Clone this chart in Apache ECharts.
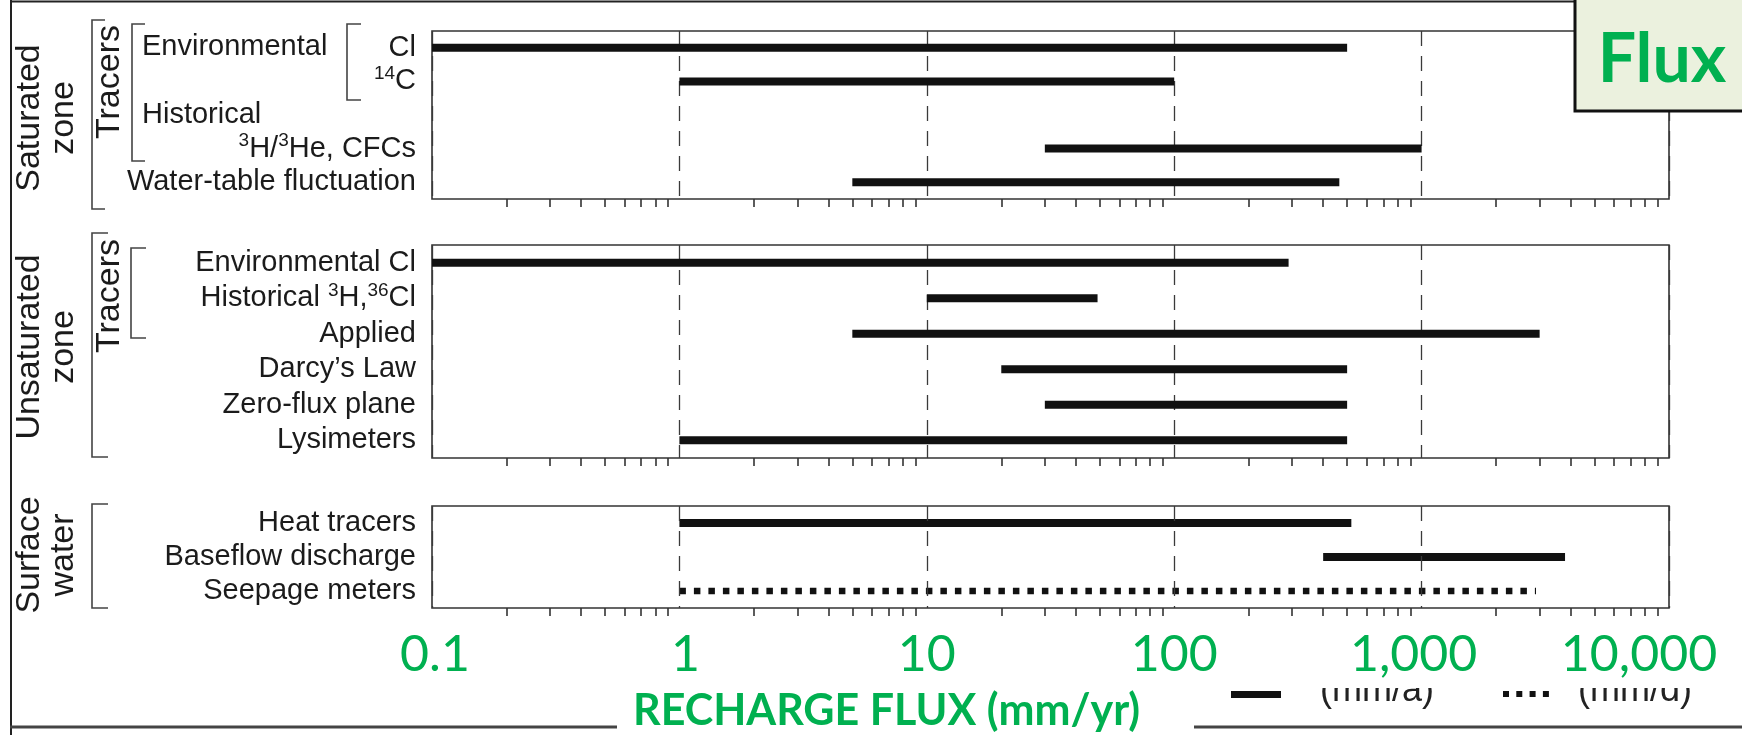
<!DOCTYPE html>
<html><head><meta charset="utf-8">
<script src="https://cdn.jsdelivr.net/npm/echarts@6/dist/echarts.min.js"></script>
<style>html,body{margin:0;padding:0;background:#fff}#c{width:1742px;height:735px}</style>
</head><body><div id="c"></div>
<script>
// ---------- data ----------
const xTickLabels = ['0.1', '1', '10', '100', '1,000', '10,000'];
const minorTickValues = [0.2,0.3,0.4,0.5,0.6,0.7,0.8,0.9, 2,3,4,5,6,7,8,9, 20,30,40,50,60,70,80,90, 200,300,400,500,600,700,800,900, 2000,3000,4000,5000,6000,7000,8000,9000];

const satRows = ['Cl', '14C', '', '3H/3He, CFCs', 'Water-table fluctuation'];
const satLow  = [0.1, 1, null, 30, 5];
const satHigh = [500, 100, null, 1000, 465];

const unsatRows = ['Environmental Cl', 'Historical 3H,36Cl', 'Applied', 'Darcy\u2019s Law', 'Zero-flux plane', 'Lysimeters'];
const unsatLow  = [0.1, 10, 5, 20, 30, 1];
const unsatHigh = [290, 49, 3000, 500, 500, 500];

const surfRows = ['Heat tracers', 'Baseflow discharge', 'Seepage meters'];
const surfLow  = [1, 400, 1];
const surfHigh = [520, 3800, 2900];

const dottedRows = ['Seepage meters'];

// ---------- styles ----------
const GREEN = '#00B050';
const INK = '#1b1b1b';
const LABEL_FONT = 'Liberation Sans';
const panels = [
  { rows: satRows, low: satLow, high: satHigh, top: 31, height: 168 },
  { rows: unsatRows, low: unsatLow, high: unsatHigh, top: 245, height: 213 },
  { rows: surfRows, low: surfLow, high: surfHigh, top: 506, height: 102 }
];

function richLabel(s) {
  return s.replace(/(\d+)(?=[A-Z])/g, '{sup|$1}');
}

const chart = echarts.init(document.getElementById('c'), null, { renderer: 'canvas' });

const grid = panels.map(p => ({
  left: 432, width: 1237, top: p.top, height: p.height,
  show: true, borderColor: '#333', borderWidth: 1.6, backgroundColor: 'transparent',
  containLabel: false, outerBoundsMode: 'none'
}));

const xAxis = [];
panels.forEach((p, i) => {
  // main axis: decade dashed lines + labels
  xAxis.push({
    gridIndex: i, type: 'log', logBase: 10, min: 0.1, max: 10000, splitNumber: 5,
    position: 'bottom',
    z: i === 2 ? 10 : 2,
    axisLine: { show: false },
    axisTick: { show: false },
    splitLine: { show: true, lineStyle: { color: '#3a3a3a', width: 1.3, type: [15, 10] } },
    axisLabel: i < 2 ? { show: false } : {
      show: true, color: GREEN, fontFamily: 'Lato', fontSize: 50, lineHeight: 50, margin: 22,
      formatter: function (v) {
        const k = Math.round(Math.log10(v)) + 1;
        const t = xTickLabels[k];
        if (k === 0) return '{p0|' + t + '}';
        if (k === 1) return '{p1|' + t + '}';
        if (k === 4) return '{p4|' + t + '}';
        if (k === 5) return '{p5|' + t + '}';
        return t;
      },
      rich: {
        p0: { padding: [0, 0, 0, 6] },
        p1: { padding: [0, 0, 0, 12] },
        p4: { padding: [0, 16, 0, 0] },
        p5: { padding: [0, 60, 0, 0] }
      }
    }
  });
  // tick axis: minor ticks below the panel
  xAxis.push({
    gridIndex: i, type: 'log', logBase: 10, min: 0.1, max: 10000, position: 'bottom',
    axisLine: { show: false },
    axisTick: { show: true, customValues: minorTickValues, length: 8, inside: false,
                lineStyle: { color: '#333', width: 1.6 } },
    splitLine: { show: false },
    axisLabel: { show: false }
  });
});

const yAxis = panels.map((p, i) => ({
  gridIndex: i, type: 'category', data: p.rows, inverse: true,
  axisLine: { show: false }, axisTick: { show: false }, splitLine: { show: false },
  axisLabel: {
    show: true, interval: 0, margin: 16, color: INK, fontFamily: LABEL_FONT, fontSize: 29, lineHeight: 34,
    formatter: function (v) { return richLabel(v); },
    rich: { sup: { fontSize: 19, lineHeight: 22, verticalAlign: 'top', fontFamily: LABEL_FONT, color: INK } }
  }
}));

function makeSeries(p, i) {
  const data = [];
  p.rows.forEach((r, k) => { if (p.low[k] != null) data.push([p.low[k], p.high[k], k]); });
  return {
    type: 'custom', xAxisIndex: 2 * i, yAxisIndex: i, data: data, z: 4,
    encode: { x: [0, 1], y: 2 },
    renderItem: function (params, api) {
      const row = api.value(2);
      const a = api.coord([api.value(0), row]);
      const b = api.coord([api.value(1), row]);
      if (dottedRows.indexOf(p.rows[row]) >= 0) {
        return { type: 'line', shape: { x1: a[0], y1: a[1], x2: b[0], y2: b[1] },
                 style: { stroke: '#111', lineWidth: 6.5, lineDash: [6.5, 8], lineCap: 'butt' } };
      }
      return { type: 'rect', shape: { x: a[0], y: a[1] - 4, width: b[0] - a[0], height: 8 },
               style: { fill: '#111' } };
    }
  };
}

const series = panels.map(makeSeries);

function bracket(x, y1, y2, arm) {
  return { type: 'polyline', z: 1, shape: { points: [[x + arm, y1], [x, y1], [x, y2], [x + arm, y2]] },
           style: { stroke: '#444', lineWidth: 1.6, fill: null } };
}
function rotText(text, x, y) {
  return { type: 'text', x: x, y: y, rotation: Math.PI / 2, z: 1,
           style: { text: text, font: '34px "Liberation Sans"', fill: INK, textAlign: 'center',
                    textVerticalAlign: 'middle', lineHeight: 34 } };
}
function plainText(text, x, y, font, fill, z, align) {
  return { type: 'text', x: x, y: y, z: z || 1,
           style: { text: text, font: font, fill: fill, textAlign: align || 'left', textVerticalAlign: 'middle' } };
}
function line(x1, y1, x2, y2, w, color, z) {
  return { type: 'line', z: z || 1, shape: { x1: x1, y1: y1, x2: x2, y2: y2 },
           style: { stroke: color || '#333', lineWidth: w } };
}

const graphic = [
  // frame
  line(10, 1.5, 1575, 1.5, 2, '#222'),
  line(11, 0, 11, 735, 2, '#222'),
  line(10, 727, 617, 727, 3, '#444'),
  line(1194, 727, 1742, 727, 3, '#444'),
  // brackets
  bracket(92, 20, 209, 13),
  bracket(132, 24, 161, 13),
  bracket(347, 24, 100, 14),
  bracket(92, 233, 457, 16),
  bracket(131, 248, 338, 15),
  bracket(92, 504, 608, 16),
  // rotated group labels
  rotText('Saturated\nzone', 47, 118),
  rotText('Tracers', 110, 82),
  rotText('Unsaturated\nzone', 47, 347),
  rotText('Tracers', 110, 296),
  rotText('Surface\nwater', 47, 555),
  // sub labels
  plainText('Environmental', 142, 47, '29px "Liberation Sans"', INK),
  plainText('Historical', 142, 115, '29px "Liberation Sans"', INK),
  // legend
  { type: 'rect', z: 1, shape: { x: 1231, y: 691, width: 50, height: 7 }, style: { fill: '#111' } },
  plainText('(mm/a)', 1320, 691, '36px "Liberation Sans"', '#222'),
  { type: 'line', z: 1, shape: { x1: 1503, y1: 694, x2: 1549, y2: 694 },
    style: { stroke: '#111', lineWidth: 6, lineDash: [6, 7.3] } },
  plainText('(mm/d)', 1578, 691, '36px "Liberation Sans"', '#222'),
  { type: 'rect', z: 2, shape: { x: 1290, y: 617, width: 452, height: 71 }, style: { fill: '#fff' } },
  // axis title
  plainText('RECHARGE FLUX (mm/yr)', 633, 711, 'bold 43px Lato', GREEN, 3),
  // Flux box
  { type: 'rect', z: 50, shape: { x: 1575, y: -3, width: 172, height: 114 },
    style: { fill: '#EBF1DE', stroke: '#111', lineWidth: 3 } },
  plainText('Flux', 1662, 60, 'bold 68px Lato', GREEN, 51, 'center')
];

chart.setOption({
  animation: false,
  backgroundColor: '#fff',
  grid: grid, xAxis: xAxis, yAxis: yAxis, series: series, graphic: graphic
});
</script></body></html>
